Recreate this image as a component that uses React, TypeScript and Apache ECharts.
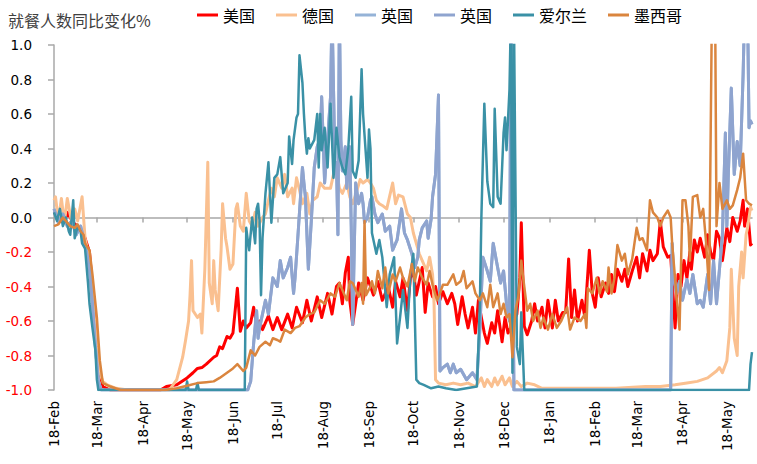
import { useEffect, useRef } from "react";
import * as echarts from "echarts";

// Day offsets are counted from 2020-02-18 (day 0); values are YoY change in diners.
const START_UTC = Date.UTC(2020, 1, 18);
const N_DAYS = 473;
const MONTHS = ["Jan", "Feb", "Mar", "Apr", "May", "Jun", "Jul", "Aug", "Sep", "Oct", "Nov", "Dec"];
const pad = (n: number) => (n < 10 ? "0" + n : "" + n);
const categories: string[] = Array.from({ length: N_DAYS }, (_, i) => {
  const t = new Date(START_UTC + i * 86400000);
  return `${t.getUTCFullYear()}-${pad(t.getUTCMonth() + 1)}-${pad(t.getUTCDate())}`;
});

const seriesNames = ["美国", "德国", "英国A", "英国B", "爱尔兰", "墨西哥"];
const yTicks = { min: -1, max: 1, step: 0.2 };

const US: [number, number][] = [
  [0,0.03],[4,-0.01],[7,-0.03],[9,0.03],[13,-0.03],[16,-0.05],[19,-0.08],[21,-0.12],[24,-0.2],[26,-0.4],[28,-0.6],[30,-0.85],[33,-0.98],[38,-1.0],[72,-1.0],
  [76,-0.98],[83,-0.97],[90,-0.93],[94,-0.9],[97,-0.875],[100,-0.87],[103,-0.85],[108,-0.81],[110,-0.8],[112,-0.75],[114,-0.76],[117,-0.69],[119,-0.7],[121,-0.67],[124,-0.41],[126,-0.66],[128,-0.6],[130,-0.64],[133,-0.61],[135,-0.52],[137,-0.62],[139,-0.6],[141,-0.65],[145,-0.57],[148,-0.65],[151,-0.58],[154,-0.65],[158,-0.56],[161,-0.64],[164,-0.52],[168,-0.61],[171,-0.48],[174,-0.6],[178,-0.46],[181,-0.58],[185,-0.44],[188,-0.56],[191,-0.4],[193,-0.38],[195,-0.5],[197,-0.32],[199,-0.23],[200,-0.48],[202,-0.62],[206,-0.38],[209,-0.48],[212,-0.35],[216,-0.45],[219,-0.37],[222,-0.48],[226,-0.4],[229,-0.52],[231,-0.37],[234,-0.46],[236,-0.35],[239,-0.54],[241,-0.35],[243,-0.31],[245,-0.45],[249,-0.29],[251,-0.55],[253,-0.38],[256,-0.46],[258,-0.4],[260,-0.5],[263,-0.43],[266,-0.5],[269,-0.44],[271,-0.5],[273,-0.62],[276,-0.46],[278,-0.56],[280,-0.64],[283,-0.52],[285,-0.67],[287,-0.48],[289,-0.58],[291,-0.67],[293,-0.73],[296,-0.61],[298,-0.67],[300,-0.54],[303,-0.72],[305,-0.58],[307,-0.67],[310,-0.62],[313,-0.56],[315,-0.35],[316,-0.03],[318,-0.63],[320,-0.68],[323,-0.6],[325,-0.5],[327,-0.6],[330,-0.52],[332,-0.64],[334,-0.48],[337,-0.64],[339,-0.48],[341,-0.6],[344,-0.55],[346,-0.55],[348,-0.24],[350,-0.58],[352,-0.42],[354,-0.6],[357,-0.48],[359,-0.58],[362,-0.19],[364,-0.44],[366,-0.52],[368,-0.35],[370,-0.46],[373,-0.38],[375,-0.44],[377,-0.33],[379,-0.43],[381,-0.3],[384,-0.37],[386,-0.3],[388,-0.4],[391,-0.31],[394,-0.23],[396,-0.35],[398,-0.21],[401,-0.31],[403,-0.19],[405,-0.25],[408,-0.21],[410,-0.02],[412,-0.17],[415,-0.23],[417,-0.22],[420,-0.64],[422,-0.33],[424,-0.4],[426,-0.25],[428,-0.35],[430,-0.2],[431,-0.3],[433,-0.13],[435,-0.2],[437,-0.12],[440,-0.23],[442,-0.1],[444,-0.2],[446,-0.25],[448,-0.08],[450,-0.12],[452,-0.25],[455,-0.06],[457,-0.14],[459,0.0],[462,-0.08],[464,-0.02],[466,0.1],[467,-0.05],[469,0.05],[471,-0.16],[472,-0.15],
];

const DE: [number, number][] = [
  [0,0.1],[1,0.12],[3,-0.02],[5,0.11],[7,-0.03],[9,0.11],[12,-0.03],[14,0.05],[16,-0.02],[19,0.12],[21,-0.12],[23,-0.2],[25,-0.3],[27,-0.55],[29,-0.75],[31,-0.9],[33,-0.95],[36,-0.97],[42,-0.99],[50,-1.0],[78,-1.0],
  [83,-0.94],[87,-0.81],[89,-0.71],[91,-0.6],[92,-0.45],[93,-0.25],[94,-0.54],[97,-0.58],[99,-0.56],[100,-0.67],[102,-0.3],[104,0.32],[105,-0.38],[107,-0.5],[108,-0.25],[109,-0.42],[111,-0.54],[113,-0.19],[114,0.08],[116,-0.12],[117,-0.17],[119,-0.3],[121,-0.27],[123,0.05],[124,0.08],[126,-0.05],[128,-0.08],[130,0.14],[132,-0.02],[134,-0.05],[136,0.03],[138,-0.05],[141,0.0],[143,0.02],[145,0.1],[147,0.17],[149,0.12],[151,0.23],[154,0.17],[156,0.25],[158,0.12],[161,0.17],[162,0.08],[164,0.23],[166,0.16],[168,0.08],[171,0.14],[173,0.02],[175,0.1],[178,0.12],[180,0.2],[183,0.17],[187,0.17],[189,0.25],[191,0.27],[193,0.17],[195,0.14],[198,0.2],[200,0.12],[202,0.08],[205,0.16],[207,0.22],[209,0.2],[212,0.22],[214,0.2],[216,0.17],[218,0.1],[220,0.08],[222,0.07],[225,0.05],[229,0.2],[231,0.08],[233,0.13],[236,0.12],[239,0.02],[241,0.0],[243,-0.09],[245,-0.15],[247,-0.21],[249,-0.25],[252,-0.31],[254,-0.23],[256,-0.33],[257,-0.5],[258,-0.94],
  [260,-0.96],[265,-0.97],[270,-0.96],[275,-0.97],[280,-0.96],[285,-0.98],[289,-0.93],[291,-0.98],[293,-0.94],[296,-0.98],[298,-0.93],[300,-0.97],[303,-0.92],[305,-0.97],[308,-0.93],[310,-0.98],[313,-0.95],[316,-0.98],[320,-0.96],[325,-0.97],[330,-0.99],[340,-0.99],[360,-0.99],[380,-0.99],[400,-0.98],[410,-0.98],[420,-0.97],[428,-0.96],[435,-0.95],[442,-0.93],[448,-0.89],[450,-0.87],[452,-0.9],[455,-0.83],[457,-0.64],[458,-0.3],[459,-0.5],[460,-0.7],[462,-0.8],[463,-0.4],[465,-0.2],[466,-0.35],[468,-0.1],[469,-0.06],[471,0.06],[472,0.04],
];

const UK: [number, number][] = [
  [0,0.05],[3,-0.03],[6,0.02],[9,-0.05],[12,-0.02],[15,-0.1],[18,-0.05],[20,-0.12],[22,-0.2],[24,-0.3],[26,-0.5],[28,-0.75],[30,-0.95],[32,-1.0],[131,-1.0],
  [133,-0.95],[135,-0.73],[137,-0.54],[138,-0.7],[139,-0.64],[143,-0.48],[145,-0.56],[148,-0.35],[151,-0.4],[153,-0.25],[155,-0.35],[158,-0.29],[160,-0.23],[162,-0.44],[163,-0.35],[165,-0.1],[168,0.29],[169,0.2],[170,0.12],[172,-0.3],[174,-0.02],[176,0.29],[178,0.41],[180,0.46],[181,0.7],[182,0.45],[183,0.2],[185,0.45],[187,0.7],[188,1.2],[190,0.3],[191,0.32],[192,-0.1],[193,1.2],[194,0.45],[195,0.27],[197,0.41],[198,0.17],[200,0.41],[201,-0.05],[202,-0.62],[203,-0.2],[204,0.2],[206,0.08],[208,0.14],[209,0.08],[210,-0.03],[212,0.0],[214,0.1],[215,0.12],[217,0.02],[219,-0.03],[222,0.02],[224,-0.08],[227,-0.05],[229,-0.19],[232,-0.13],[235,0.05],[237,-0.09],[239,-0.13],[242,-0.21],[244,-0.29],[246,-0.23],[247,-0.13],[249,-0.06],[252,-0.02],[253,-0.12],[255,-0.01],[256,0.12],[258,0.25],[260,0.71],[261,-0.89],[263,-0.87],[266,-0.85],[268,-0.9],[270,-0.85],[272,-0.9],[275,-0.88],[279,-0.94],[283,-0.9],[286,-0.94],[288,-0.64],[290,-0.23],[293,-0.31],[295,-0.37],[297,-0.15],[300,-0.29],[302,-0.38],[304,-0.31],[306,-0.5],[308,-0.6],[309,1.2],[311,-1.0],[417,-1.0],
  [418,-0.15],[419,-0.33],[421,-0.44],[423,-0.37],[425,-0.48],[428,-0.36],[430,-0.44],[432,-0.33],[435,-0.5],[437,-0.48],[439,-0.52],[442,-0.33],[444,-0.5],[446,-0.25],[448,-0.5],[449,-0.4],[452,-0.1],[454,0.49],[455,-0.05],[456,0.25],[458,0.75],[460,0.25],[462,0.44],[464,0.3],[466,0.83],[467,1.2],[469,1.2],[470,0.52],[471,0.56],[472,0.54],
];

const IE: [number, number][] = [
  [0,0.03],[2,-0.02],[4,0.05],[6,-0.05],[8,0.0],[10,-0.08],[11,-0.1],[13,0.1],[14,-0.12],[16,-0.05],[18,-0.08],[19,-0.15],[21,-0.18],[23,-0.38],[24,-0.5],[26,-0.64],[28,-0.77],[29,-0.94],[30,-1.0],[89,-1.0],[90,-0.95],[91,-1.0],[96,-1.0],[97,-0.96],[98,-1.0],[129,-1.0],
  [130,-0.06],[131,-0.13],[132,-0.19],[134,0.0],[136,-0.15],[137,0.05],[138,0.08],[139,-0.02],[140,-0.45],[141,-0.12],[143,0.14],[145,0.32],[147,-0.03],[149,0.23],[151,0.25],[153,0.35],[155,0.14],[158,0.2],[159,0.47],[161,0.31],[162,0.45],[164,0.58],[165,0.6],[166,0.94],[168,0.78],[169,0.6],[170,0.46],[171,0.37],[172,0.46],[173,0.4],[176,0.45],[178,0.6],[179,0.29],[180,0.6],[181,0.39],[183,0.52],[185,0.29],[187,0.66],[189,0.23],[190,0.35],[191,0.52],[193,0.35],[195,0.29],[197,0.25],[199,0.4],[201,0.7],[202,0.27],[204,0.23],[206,0.33],[208,0.86],[209,0.6],[212,0.23],[213,0.51],[214,0.4],[215,-0.09],[218,-0.21],[220,-0.13],[222,-0.23],[225,-0.52],[227,-0.33],[230,-0.23],[232,-0.73],[234,-0.58],[236,-0.42],[239,-0.64],[241,-0.33],[243,-0.21],[245,-0.94],[247,-0.96],[250,-0.97],[255,-0.99],[260,-0.98],[265,-0.99],[272,-1.0],[286,-0.98],
  [288,-0.5],[289,0.0],[291,0.66],[293,0.21],[295,0.08],[297,0.06],[298,0.63],[300,0.12],[302,0.08],[304,0.49],[305,0.58],[306,0.39],[308,0.74],[309,1.2],[310,-0.9],[311,1.2],[313,-0.75],[315,-0.85],[316,-0.55],[318,-1.0],[470,-1.0],[471,-0.85],[472,-0.78],
];

const MX: [number, number][] = [
  [0,-0.05],[3,-0.04],[6,0.0],[9,-0.03],[11,-0.05],[14,-0.06],[16,-0.04],[18,-0.08],[20,-0.1],[21,-0.15],[24,-0.19],[26,-0.33],[29,-0.58],[31,-0.83],[33,-0.96],[38,-0.98],[45,-1.0],[75,-1.0],
  [83,-0.99],[90,-0.975],[97,-0.96],[103,-0.955],[108,-0.95],[112,-0.93],[117,-0.9],[121,-0.875],[124,-0.85],[128,-0.89],[130,-0.87],[133,-0.77],[136,-0.8],[139,-0.75],[143,-0.72],[146,-0.74],[148,-0.7],[151,-0.71],[153,-0.72],[156,-0.65],[160,-0.67],[163,-0.64],[166,-0.63],[170,-0.58],[173,-0.56],[176,-0.55],[180,-0.48],[183,-0.5],[187,-0.44],[190,-0.46],[193,-0.38],[195,-0.42],[198,-0.48],[200,-0.37],[202,-0.38],[206,-0.46],[208,-0.38],[209,-0.5],[210,-0.02],[211,-0.45],[214,-0.4],[215,-0.37],[217,-0.44],[219,-0.31],[222,-0.41],[224,-0.29],[226,-0.44],[229,-0.33],[231,-0.37],[234,-0.29],[236,-0.35],[239,-0.4],[242,-0.27],[244,-0.37],[246,-0.29],[249,-0.35],[252,-0.39],[254,-0.31],[256,-0.39],[259,-0.48],[261,-0.44],[263,-0.39],[266,-0.39],[270,-0.33],[272,-0.39],[275,-0.37],[277,-0.31],[279,-0.41],[283,-0.37],[285,-0.44],[288,-0.48],[290,-0.44],[293,-0.52],[295,-0.39],[297,-0.52],[300,-0.44],[302,-0.56],[304,-0.5],[306,-0.58],[308,-0.56],[310,-0.81],[312,-0.54],[314,-0.46],[316,-0.25],[317,-0.33],[320,-0.54],[322,-0.5],[324,-0.6],[327,-0.54],[329,-0.64],[331,-0.58],[334,-0.65],[337,-0.56],[340,-0.64],[343,-0.6],[347,-0.52],[349,-0.65],[352,-0.58],[356,-0.6],[359,-0.56],[360,-0.64],[361,-0.41],[364,-0.44],[367,-0.35],[369,-0.44],[371,-0.37],[374,-0.43],[375,-0.29],[377,-0.44],[379,-0.35],[381,-0.16],[384,-0.25],[386,-0.21],[388,-0.33],[391,-0.24],[394,-0.06],[396,-0.13],[398,-0.12],[401,-0.19],[403,0.1],[405,0.03],[408,0.0],[410,-0.05],[412,0.0],[415,0.04],[417,0.0],[418,-0.15],[421,-0.46],[423,-0.65],[425,0.1],[427,0.1],[429,-0.05],[430,-0.25],[432,0.12],[435,0.13],[437,0.0],[439,0.05],[441,-0.15],[443,-0.42],[445,1.3],[447,1.3],[448,-0.05],[450,0.2],[452,0.05],[455,0.1],[457,0.05],[459,0.07],[462,0.16],[464,0.23],[466,0.37],[468,0.1],[470,0.08],[472,0.07],
];

const seriesData = [US, DE, UK, UK, IE, MX];
const seriesColors = ["#FF0000", "#FAC090", "#95B3D7", "#8FA4CF", "#3A91A6", "#DA853E"];
const seriesWidths = [3, 3, 3, 3, 2.5, 2.5];

const isTickDay = (_i: number, v: string) => v.slice(8) === "18";
const fmtDate = (v: string) => `${parseInt(v.slice(8), 10)}-${MONTHS[parseInt(v.slice(5, 7), 10) - 1]}`;

const NUM_FONT = "'DejaVu Sans', sans-serif";
const CJK_FONT = "'Noto Sans CJK SC', sans-serif";
const AXIS_GRAY = "#A8A8A8";

export default function App() {
  const ref = useRef<HTMLDivElement>(null);
  useEffect(() => {
    if (!ref.current) return;
    const chart = echarts.init(ref.current, undefined, { renderer: "svg" });
    chart.setOption({
      animation: false,
      backgroundColor: "#FFFFFF",
      title: {
        text: "就餐人数同比变化%",
        left: 8,
        top: 12,
        padding: 0,
        textStyle: { fontFamily: CJK_FONT, fontSize: 16, fontWeight: "normal", color: "#404040" },
      },
      legend: {
        left: 197,
        top: 6,
        padding: 0,
        itemGap: 21,
        itemWidth: 21,
        itemHeight: 3,
        icon: "rect",
        data: seriesNames,
        formatter: (name: string) => (name.startsWith("英国") ? "英国" : name),
        textStyle: { fontFamily: CJK_FONT, fontSize: 16, color: "#000000", lineHeight: 18 },
      },
      grid: { left: 54, right: 5, top: 45, bottom: 74, containLabel: false },
      xAxis: [
        {
          type: "category",
          data: categories,
          boundaryGap: false,
          position: "bottom",
          axisLine: { show: false, onZero: false },
          axisTick: { show: false },
          splitLine: { show: false },
          axisLabel: {
            interval: isTickDay,
            formatter: fmtDate,
            rotate: 90,
            margin: 11,
            fontFamily: NUM_FONT,
            fontSize: 13.5,
            color: "#000000",
          },
        },
        {
          type: "category",
          data: categories,
          boundaryGap: false,
          position: "bottom",
          axisLine: { show: true, onZero: true, lineStyle: { color: AXIS_GRAY, width: 1.5 } },
          axisTick: { show: true, interval: isTickDay, length: 5, lineStyle: { color: AXIS_GRAY, width: 1.5 } },
          axisLabel: { show: false },
          splitLine: { show: false },
        },
      ],
      yAxis: {
        type: "value",
        min: yTicks.min,
        max: yTicks.max,
        interval: yTicks.step,
        splitLine: { show: false },
        axisLine: { show: true, lineStyle: { color: AXIS_GRAY, width: 1.5 } },
        axisTick: { show: true, length: 6, lineStyle: { color: AXIS_GRAY, width: 1.5 } },
        axisLabel: {
          margin: 22,
          fontFamily: NUM_FONT,
          fontSize: 13.5,
          color: "#000000",
          formatter: (v: number) => {
            const s = (Math.abs(v) < 1e-9 ? 0 : v).toFixed(1);
            return v < -1e-9 ? `{neg|${s}}` : `{pos|${s}}`;
          },
          rich: {
            neg: { color: "#FF0000", fontFamily: NUM_FONT, fontSize: 13.5 },
            pos: { color: "#000000", fontFamily: NUM_FONT, fontSize: 13.5 },
          },
        },
      },
      series: seriesNames.map((name, i) => ({
        name,
        type: "line",
        xAxisIndex: 0,
        data: seriesData[i].map(([d, v]) => [categories[d], v]),
        showSymbol: false,
        symbol: "none",
        clip: true,
        color: seriesColors[i],
        lineStyle: { color: seriesColors[i], width: seriesWidths[i], join: "round" },
      })),
    });
    return () => chart.dispose();
  }, []);
  return (
    <div
      ref={ref}
      style={{ position: "absolute", left: 0, top: 0, width: 757, height: 464, background: "#fff" }}
    />
  );
}
